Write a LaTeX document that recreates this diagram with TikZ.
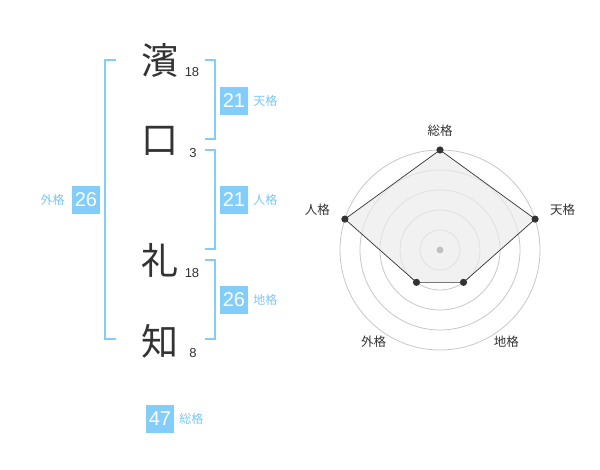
\documentclass[tikz,border=0pt]{standalone}
\usepackage{fontspec}
\setmainfont{Liberation Sans}
\newfontfamily\jp{Noto Sans CJK JP}
\usetikzlibrary{positioning}
\definecolor{skyb}{RGB}{130,205,250}
\definecolor{tagb}{RGB}{125,198,240}
\definecolor{ink}{RGB}{51,51,51}

\begin{document}
\begin{tikzpicture}[x=1pt,y=-1pt,
    kanji/.style={inner sep=0pt,text=ink,font=\jp\fontsize{37}{37}\selectfont},
    strokes/.style={inner sep=0pt,text=ink,font=\fontsize{13}{13}\selectfont},
    numbox/.style={fill=skyb,text=white,minimum size=28pt,inner sep=0pt,font=\fontsize{20}{20}\selectfont},
    tag/.style={inner sep=0pt,text=tagb,font=\jp\fontsize{12}{12}\selectfont},
    bracket/.style={draw=skyb,line width=1.6pt},
    ring/.style={draw=black!22,line width=0.8pt},
    axislabel/.style={inner sep=0pt,text=ink,font=\jp\fontsize{12.5}{12.5}\selectfont}]
        \useasboundingbox (0,0) rectangle (600,470);
        \node[kanji] (k1) at (160,60) {濱};
        \node[kanji] (k2) at (160,141) {口};
        \node[kanji] (k3) at (160,260) {礼};
        \node[kanji] (k4) at (160,341) {知};
        \node[strokes] (s1) at (192,72) {18};
        \node[strokes] (s2) at (193,153) {3};
        \node[strokes] (s3) at (192,273) {18};
        \node[strokes] (s4) at (193,353) {8};
        \draw [bracket] (116,60) -- (105,60) -- (105,339) -- (116,339);
        \draw [bracket] (205,60) -- (215,60) -- (215,139) -- (205,139);
        \draw [bracket] (205,150) -- (215,150) -- (215,249) -- (205,249);
        \draw [bracket] (205,260) -- (215,260) -- (215,339) -- (205,339);
        \node[numbox] (ten) at (234,101) {21};
        \node[tag, right=5pt of ten] {天格};
        \node[numbox] (jin) at (234,200) {21};
        \node[tag, right=5pt of jin] {人格};
        \node[numbox] (chi) at (234,300) {26};
        \node[tag, right=5pt of chi] {地格};
        \node[numbox] (gai) at (86,200) {26};
        \node[tag, left=7pt of gai] {外格};
        \node[numbox] (so) at (160,419) {47};
        \node[tag, right=5pt of so] {総格};
        \begin{scope}[shift={(440,250)},y=1pt]
          \foreach \r in {20,40,...,100}
            \draw [ring] (0,0) circle[radius=\r];
          \fill [black!8, opacity=0.7] (90:100) -- (18:100) -- (-54:40) -- (-126:40) -- (162:100) -- cycle;
          \foreach \ang/\r/\nm in {90/100/pso,18/100/pten,-54/40/pchi,-126/40/pgai,162/100/pjin}
            \coordinate (\nm) at (\ang:\r);
          \draw [ink, line width=0.7pt] (pso) -- (pten) -- (pchi) -- (pgai) -- (pjin) -- cycle;
          \foreach \nm in {pso,pten,pchi,pgai,pjin}
            \fill [ink] (\nm) circle[radius=3.6];
          \fill [black!25] (0,0) circle[radius=3.4];
          \node[axislabel] at (90:119.5) {総格};
          \node[axislabel] at (18:129) {天格};
          \node[axislabel] at (162:129) {人格};
          \node[axislabel] at (-54:113) {地格};
          \node[axislabel] at (-126:113) {外格};
        \end{scope}
      \end{tikzpicture}
\end{document}
